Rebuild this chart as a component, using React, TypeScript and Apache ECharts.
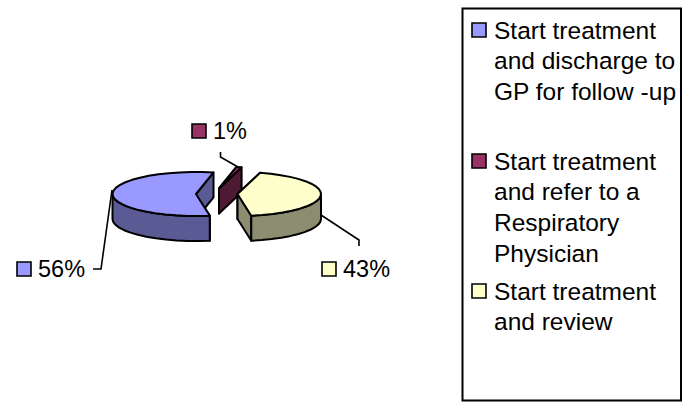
import React, { useEffect, useRef } from "react";
import * as echarts from "echarts";

const categories = [
  "Start treatment\nand discharge to\nGP for follow -up",
  "Start treatment\nand refer to a\nRespiratory\nPhysician",
  "Start treatment\nand review",
];
const values = [56, 1, 43];
const percentLabels = ["56%", "1%", "43%"];
const topColors = ["#9999FF", "#993366", "#FFFFCC"];
const sideColors = ["#5A5A95", "#4D1933", "#8C8C70"];

const FONT = '"Liberation Sans", Arial, sans-serif';
const FIRST_ANGLE = 170.5;
const RX = 83.5;
const RY = 22;
const DEPTH = 25;
const centers = [[196, 194], [219, 188.5], [237.5, 194]];
const labelPos = [[17, 262], [192, 124], [322, 262]];
const leaders = [
  [[112, 190], [101, 269], [93, 269]],
  [[238, 167], [220.5, 157], [220.5, 152]],
  [[321, 215], [359, 240], [359, 246]],
];
const legendTextY = [15, 146, 276];
const legendSquareY = [23, 154, 284];

const total = values.reduce((a, b) => a + b, 0);

function pt(c: number[], deg: number, dy = 0) {
  const r = (deg * Math.PI) / 180;
  return [c[0] + RX * Math.sin(r), c[1] - RY * Math.cos(r) + dy];
}
function arc(c: number[], a: number, b: number, dy = 0) {
  const out: number[][] = [];
  const n = Math.max(1, Math.ceil(Math.abs(b - a) / 8));
  for (let i = 0; i <= n; i++) out.push(pt(c, a + ((b - a) * i) / n, dy));
  return out;
}

function makeRenderItem(idx: number) {
  return (_params: any, api: any) => {
    const before = values.slice(0, idx).reduce((a, b) => a + b, 0);
    const start = FIRST_ANGLE + (before / total) * 360;
    const end = start + (api.value(0) / total) * 360;
    const c = centers[idx];
    const cd = [c[0], c[1] + DEPTH];
    const line = { stroke: "#000", lineWidth: 2, lineJoin: "round" };
    const poly = (points: number[][], fill: string) => ({
      type: "polygon",
      shape: { points },
      style: { fill, ...line },
    });
    const facet = (deg: number) =>
      poly([c, pt(c, deg), pt(c, deg, DEPTH), cd], sideColors[idx]);
    const children: any[] = [facet(start), facet(end)];
    // visible outer wall: the front half of the ellipse
    const ranges: number[][] = [[90, 270], [450, 630]];
    ranges.forEach(([lo, hi]) => {
      const a = Math.max(start, lo);
      const b = Math.min(end, hi);
      if (b > a) {
        children.push(
          poly([...arc(c, a, b), ...arc(c, b, a, DEPTH)], sideColors[idx])
        );
      }
    });
    children.push(poly([c, ...arc(c, start, end)], topColors[idx]));
    // leader line
    children.push({
      type: "polyline",
      shape: { points: leaders[idx] },
      style: { fill: "none", stroke: "#000", lineWidth: 1.6 },
    });
    // data label
    const [lx, ly] = labelPos[idx];
    children.push({
      type: "rect",
      shape: { x: lx, y: ly, width: 14, height: 14 },
      style: { fill: topColors[idx], stroke: "#000", lineWidth: 1.6 },
    });
    children.push({
      type: "text",
      style: {
        text: percentLabels[idx],
        x: lx + 21,
        y: ly + 7,
        fill: "#000",
        fontSize: 23.5,
        fontFamily: FONT,
        verticalAlign: "middle",
        align: "left",
      },
    });
    return { type: "group", children };
  };
}

export default function App() {
  const ref = useRef<HTMLDivElement>(null);
  useEffect(() => {
    document.body.style.margin = "0";
    const chart = echarts.init(ref.current!, null, { renderer: "svg" });
    chart.setOption({
      animation: false,
      backgroundColor: "#fff",
      series: values.map((v, i) => ({
        type: "custom",
        name: categories[i].replace(/\n/g, " "),
        coordinateSystem: "none",
        silent: true,
        data: [[v]],
        renderItem: makeRenderItem(i),
      })),
      graphic: [
        {
          type: "rect",
          shape: { x: 462.5, y: 8.5, width: 218.5, height: 392 },
          style: { fill: "#fff", stroke: "#000", lineWidth: 2 },
        },
        ...categories.flatMap((name, i) => [
          {
            type: "rect",
            shape: { x: 472, y: legendSquareY[i], width: 14, height: 14 },
            style: { fill: topColors[i], stroke: "#000", lineWidth: 1.6 },
          },
          {
            type: "text",
            style: {
              text: name,
              x: 494,
              y: legendTextY[i],
              fill: "#000",
              fontSize: 24.5,
              lineHeight: 30.6,
              fontFamily: FONT,
              align: "left",
              verticalAlign: "top",
            },
          },
        ]),
      ],
    });
    return () => chart.dispose();
  }, []);
  return <div ref={ref} style={{ width: 685, height: 405 }} />;
}
